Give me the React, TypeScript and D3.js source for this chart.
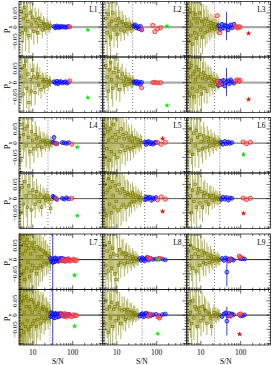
import * as d3 from "d3";

const W = 272;
const H = 365;
const COL_X = [19, 103, 187];
const ROW_Y = [1.5, 117.5, 234];
const PW = 83.5;
const SUB_H = 55.5;
const SN_DOMAIN = [4.5, 560];
const P_DOMAIN = [-0.105, 0.09];

const LABELS = ["L1", "L2", "L3", "L4", "L5", "L6", "L7", "L8", "L9"];
const THRESH = [23, 25, 22, 24, 50, 30, 27, 43, 22];
const ZERO_COLOR = ["#aaaaaa", "#555555", "#222222"];
const ZERO_WIDTH = [2.2, 1, 1];

// olive points: S/N, error, Px, Py
const L1_SN = [5.1, 5.4, 5.8, 6.2, 6.6, 7.0, 7.5, 8.0, 8.6, 9.2, 9.9, 10.6, 11.4, 12.2, 13.1, 14.0, 15.0, 16.1, 17.3, 18.5, 19.8, 21.2, 22.7, 24.3, 26.0, 27.8];
const L1_ERR = [0.095, 0.09, 0.085, 0.08, 0.075, 0.07, 0.066, 0.062, 0.058, 0.054, 0.05, 0.047, 0.044, 0.041, 0.038, 0.035, 0.033, 0.031, 0.029, 0.027, 0.025, 0.023, 0.021, 0.02, 0.018, 0.017];
const L1_PX = [0.055, -0.02, 0.03, 0.07, -0.01, 0.04, 0.02, -0.03, 0.05, 0.01, 0.035, -0.015, 0.025, 0.015, -0.02, 0.03, 0.005, 0.02, -0.01, 0.012, 0.008, -0.005, 0.01, 0.004, -0.003, 0.006];
const L1_PY = [0.02, 0.05, -0.04, 0.06, 0.075, -0.02, 0.03, -0.07, 0.01, -0.03, 0.044, 0.02, -0.035, 0.015, 0.03, -0.01, 0.02, -0.025, 0.01, 0.005, -0.015, 0.012, 0.003, -0.008, 0.006, 0.002];

const L2_SN = [5.3, 5.7, 6.1, 6.5, 7.0, 7.4, 7.9, 8.5, 9.1, 9.7, 10.4, 11.1, 11.9, 12.7, 13.6, 14.5, 15.5, 16.6, 17.8, 19.0, 20.3, 21.7, 23.2, 24.8, 26.5];
const L2_ERR = [0.09, 0.085, 0.08, 0.076, 0.072, 0.068, 0.064, 0.06, 0.056, 0.052, 0.049, 0.046, 0.043, 0.04, 0.037, 0.035, 0.032, 0.03, 0.028, 0.026, 0.024, 0.022, 0.02, 0.019, 0.017];
const L2_PX = [0.03, -0.02, 0.045, 0.01, -0.035, 0.02, 0.05, -0.01, 0.025, 0.005, -0.025, 0.03, 0.015, -0.01, 0.02, 0.008, -0.015, 0.012, 0.004, -0.006, 0.01, 0.002, -0.004, 0.005, 0.001];
const L2_PY = [0.06, 0.02, -0.03, 0.045, 0.07, 0.01, -0.02, 0.035, 0.05, -0.01, 0.02, 0.04, -0.025, 0.015, 0.03, 0.005, -0.01, 0.02, 0.01, -0.005, 0.012, 0.006, -0.002, 0.004, 0.003];

const L3_SN = [4.7, 4.9, 5.1, 5.3, 5.6, 5.8, 6.1, 6.4, 6.7, 7.0, 7.3, 7.7, 8.1, 8.5, 8.9, 9.4, 9.9, 10.4, 11.0, 11.6, 12.2, 12.9, 13.6, 14.3, 15.1, 16.0, 16.9, 17.9, 18.9, 20.0, 21.2, 22.4, 23.7, 25.1, 26.6, 28.2];
const L3_ERR = [0.13, 0.125, 0.12, 0.115, 0.11, 0.106, 0.102, 0.098, 0.094, 0.09, 0.086, 0.082, 0.078, 0.074, 0.07, 0.067, 0.064, 0.061, 0.058, 0.055, 0.052, 0.049, 0.046, 0.044, 0.042, 0.04, 0.038, 0.036, 0.034, 0.032, 0.03, 0.028, 0.026, 0.025, 0.023, 0.022];
const L3_PX = [0.04, -0.05, 0.02, 0.06, -0.03, 0.01, -0.06, 0.05, 0.03, -0.02, 0.045, -0.04, 0.015, 0.03, -0.025, 0.05, -0.01, 0.02, -0.035, 0.025, 0.01, -0.02, 0.03, -0.015, 0.02, 0.005, -0.01, 0.015, -0.005, 0.012, 0.003, -0.008, 0.01, 0.002, -0.004, 0.006];
const L3_PY = [-0.03, 0.05, 0.07, -0.04, 0.02, 0.06, -0.02, 0.03, -0.05, 0.04, 0.01, 0.055, -0.03, 0.02, 0.045, -0.015, 0.03, -0.04, 0.015, 0.035, -0.02, 0.025, 0.01, -0.03, 0.02, 0.015, -0.01, 0.02, 0.005, -0.012, 0.01, 0.004, -0.006, 0.008, 0.002, -0.003];

const L4_SN = [4.6, 5.0, 5.4, 5.8, 6.3, 6.8, 7.3, 7.9, 8.5, 9.2, 9.9, 10.7, 11.5, 12.4, 13.4, 14.4, 15.5, 16.7, 18.0, 19.4, 20.9, 22.5, 24.2, 26.1, 28.1, 30.3];
const L4_ERR = [0.1, 0.095, 0.09, 0.085, 0.08, 0.075, 0.07, 0.066, 0.062, 0.058, 0.054, 0.05, 0.047, 0.044, 0.041, 0.038, 0.035, 0.033, 0.031, 0.029, 0.027, 0.025, 0.023, 0.021, 0.02, 0.018];
const L4_PX = [0.02, -0.06, 0.066, 0.03, 0.05, -0.01, 0.06, 0.02, -0.03, 0.04, 0.01, -0.02, 0.03, 0.015, -0.01, 0.02, 0.005, -0.015, 0.01, 0.006, -0.004, 0.008, 0.002, -0.006, 0.004, 0.001];
const L4_PY = [0.03, -0.05, 0.04, -0.02, 0.06, 0.01, -0.03, 0.045, 0.02, -0.04, 0.03, 0.01, -0.02, 0.025, 0.005, -0.01, 0.015, -0.03, 0.008, 0.004, -0.006, 0.01, 0.003, -0.004, -0.034, -0.002];

const L5_SN = [4.8, 5.0, 5.3, 5.6, 5.9, 6.2, 6.5, 6.9, 7.3, 7.7, 8.1, 8.6, 9.1, 9.6, 10.2, 10.8, 11.4, 12.1, 12.8, 13.6, 14.4, 15.3, 16.2, 17.2, 18.3, 19.4, 20.6, 21.9, 23.3, 24.8, 26.4, 28.1, 30.0, 32.0, 34.2, 36.5, 39.0, 41.7];
const L5_ERR = [0.15, 0.145, 0.14, 0.135, 0.13, 0.125, 0.12, 0.115, 0.11, 0.105, 0.1, 0.095, 0.09, 0.086, 0.082, 0.078, 0.074, 0.07, 0.066, 0.063, 0.06, 0.057, 0.054, 0.051, 0.048, 0.046, 0.044, 0.042, 0.04, 0.038, 0.036, 0.034, 0.032, 0.03, 0.028, 0.026, 0.025, 0.024];
const L5_PX = [0.03, -0.05, 0.06, -0.02, 0.04, 0.01, -0.06, 0.05, -0.03, 0.02, 0.065, -0.04, 0.03, 0.01, -0.05, 0.04, 0.02, -0.03, 0.05, -0.01, 0.03, 0.015, -0.025, 0.035, -0.015, 0.02, 0.01, -0.02, 0.025, 0.005, -0.015, 0.018, -0.008, 0.012, 0.004, -0.006, 0.008, 0.002];
const L5_PY = [-0.04, 0.05, 0.02, -0.06, 0.03, 0.07, -0.02, 0.04, -0.05, 0.06, 0.01, -0.03, 0.045, -0.01, 0.03, -0.04, 0.05, 0.02, -0.03, 0.035, -0.02, 0.025, 0.01, -0.03, 0.02, 0.015, -0.02, 0.01, -0.012, 0.02, 0.006, -0.01, 0.012, -0.004, 0.008, 0.003, -0.005, 0.004];

const L6_SN = [4.7, 5.0, 5.4, 5.8, 6.2, 6.7, 7.2, 7.7, 8.3, 8.9, 9.5, 10.2, 11.0, 11.8, 12.6, 13.5, 14.5, 15.6, 16.7, 17.9, 19.2, 20.6, 22.1, 23.7, 25.4, 27.2, 29.2, 31.3];
const L6_ERR = [0.1, 0.095, 0.09, 0.086, 0.082, 0.078, 0.074, 0.07, 0.066, 0.062, 0.058, 0.055, 0.052, 0.049, 0.046, 0.043, 0.04, 0.038, 0.036, 0.034, 0.032, 0.03, 0.028, 0.026, 0.024, 0.022, 0.02, 0.019];
const L6_PX = [0.02, -0.03, 0.05, 0.01, -0.04, 0.035, -0.01, 0.045, 0.02, -0.025, 0.03, 0.005, -0.02, 0.025, 0.01, -0.015, 0.02, 0.006, -0.01, 0.015, 0.003, -0.008, 0.01, 0.002, -0.005, 0.006, 0.001, -0.003];
const L6_PY = [-0.02, 0.04, 0.01, -0.05, 0.03, -0.01, 0.05, -0.03, 0.02, 0.035, -0.015, 0.025, -0.03, 0.01, 0.02, -0.01, 0.015, -0.02, 0.008, 0.012, -0.006, 0.01, -0.004, 0.006, 0.002, -0.003, 0.004, 0.001];

const L7_SN = [4.5, 4.65, 4.8, 4.95, 5.1, 5.3, 5.5, 5.7, 5.9, 6.1, 6.3, 6.55, 6.8, 7.05, 7.3, 7.6, 7.9, 8.2, 8.5, 8.85, 9.2, 9.6, 10.0, 10.4, 10.8, 11.3, 11.8, 12.3, 12.8, 13.4, 14.0, 14.6, 15.3, 16.0, 16.7, 17.5, 18.3, 19.2, 20.1, 21.0, 22.0, 23.1, 24.2, 25.4, 26.6, 27.9];
const L7_ERR = [0.2, 0.19, 0.18, 0.175, 0.17, 0.165, 0.16, 0.155, 0.15, 0.145, 0.14, 0.135, 0.13, 0.125, 0.12, 0.116, 0.112, 0.108, 0.104, 0.1, 0.096, 0.092, 0.088, 0.085, 0.082, 0.079, 0.076, 0.073, 0.07, 0.067, 0.064, 0.061, 0.058, 0.056, 0.054, 0.052, 0.05, 0.048, 0.046, 0.044, 0.042, 0.04, 0.038, 0.036, 0.034, 0.032];
const L7_PX = [0.04, -0.06, 0.07, -0.02, 0.05, -0.05, 0.02, 0.08, -0.04, 0.06, -0.07, 0.03, 0.05, -0.03, 0.07, -0.01, 0.04, -0.06, 0.06, 0.02, -0.04, 0.05, -0.02, 0.04, 0.06, -0.03, 0.03, -0.05, 0.045, 0.01, -0.03, 0.04, -0.02, 0.035, 0.01, -0.025, 0.03, -0.01, 0.02, 0.025, -0.015, 0.015, -0.01, 0.012, 0.004, -0.006];
const L7_PY = [-0.05, 0.06, 0.02, -0.07, 0.04, 0.07, -0.03, 0.05, -0.06, 0.01, 0.06, -0.04, 0.03, 0.065, -0.02, 0.05, -0.05, 0.03, 0.02, -0.04, 0.055, 0.01, -0.03, 0.045, -0.02, 0.035, 0.02, -0.04, 0.03, -0.015, 0.04, 0.01, -0.03, 0.025, -0.01, 0.02, 0.03, -0.02, 0.015, -0.01, 0.02, 0.008, -0.012, 0.01, 0.004, -0.005];

const L8_SN = [5.0, 5.3, 5.7, 6.1, 6.5, 6.9, 7.4, 7.9, 8.4, 9.0, 9.6, 10.3, 11.0, 11.8, 12.6, 13.5, 14.4, 15.4, 16.5, 17.6, 18.8, 20.1, 21.5, 23.0, 24.6, 26.3, 28.1, 30.0, 32.1, 34.3];
const L8_ERR = [0.11, 0.105, 0.1, 0.096, 0.092, 0.088, 0.084, 0.08, 0.076, 0.072, 0.068, 0.064, 0.06, 0.057, 0.054, 0.051, 0.048, 0.045, 0.042, 0.04, 0.038, 0.036, 0.034, 0.032, 0.03, 0.028, 0.026, 0.024, 0.022, 0.02];
const L8_PX = [0.05, -0.02, 0.03, -0.04, 0.06, 0.01, -0.03, 0.04, 0.02, -0.05, -0.07, 0.015, -0.02, 0.035, -0.01, 0.02, 0.025, -0.015, 0.01, 0.02, -0.01, 0.015, 0.005, -0.008, 0.01, 0.003, -0.005, 0.006, 0.002, -0.003];
const L8_PY = [-0.03, 0.05, 0.02, -0.06, 0.03, -0.01, 0.045, -0.04, 0.02, 0.03, -0.02, 0.04, -0.01, 0.025, -0.03, 0.015, -0.005, 0.02, -0.015, 0.01, 0.02, -0.01, 0.008, 0.012, -0.006, 0.004, 0.008, -0.002, 0.003, 0.001];

const L9_SN = [4.8, 5.1, 5.5, 5.9, 6.3, 6.7, 7.2, 7.7, 8.2, 8.8, 9.4, 10.1, 10.8, 11.6, 12.4, 13.3, 14.2, 15.2, 16.3, 17.4, 18.6, 19.9, 21.3, 22.8, 24.4, 26.1, 27.9, 29.9];
const L9_ERR = [0.1, 0.095, 0.09, 0.086, 0.082, 0.078, 0.074, 0.07, 0.066, 0.062, 0.058, 0.055, 0.052, 0.049, 0.046, 0.043, 0.04, 0.038, 0.036, 0.034, 0.032, 0.03, 0.028, 0.026, 0.024, 0.022, 0.02, 0.019];
const L9_PX = [0.03, -0.02, 0.05, 0.01, -0.03, 0.04, 0.02, -0.04, 0.035, 0.01, -0.02, 0.03, 0.015, -0.01, 0.025, -0.015, 0.02, 0.008, -0.01, 0.015, 0.004, -0.006, 0.01, 0.002, -0.004, 0.005, 0.001, -0.002];
const L9_PY = [-0.02, 0.04, 0.01, -0.03, 0.05, -0.01, 0.03, 0.02, -0.04, 0.025, 0.01, -0.02, 0.03, -0.01, 0.02, 0.015, -0.03, 0.01, 0.005, -0.01, -0.04, -0.004, 0.008, 0.002, -0.005, 0.004, -0.002, 0.001];

// blue points: S/N, error, Px, Py
const L1_B_SN = [34, 37, 40, 43, 46, 50, 55, 60, 66, 72, 78];
const L1_B_ERR = [0.006, 0.006, 0.005, 0.005, 0.005, 0.004, 0.004, 0.004, 0.003, 0.003, 0.003];
const L1_B_PX = [0.002, -0.003, 0.004, 0.001, -0.002, 0.003, 0, 0.002, -0.001, 0.001, 0.002];
const L1_B_PY = [0.003, -0.002, 0.005, -0.004, 0.002, 0.004, -0.001, 0.001, 0.003, -0.002, 0.001];
const L2_B_SN = [27, 29, 31, 33, 36, 39, 42];
const L2_B_ERR = [0.005, 0.005, 0.005, 0.004, 0.004, 0.004, 0.004];
const L2_B_PX = [0.004, 0.008, -0.003, 0.002, -0.006, 0.003, -0.01];
const L2_B_PY = [0.003, -0.002, 0.004, -0.004, 0.002, -0.006, 0.001];
const L3_B_SN = [28, 31, 34, 37, 40, 44, 48, 52, 56, 60, 68];
const L3_B_ERR = [0.008, 0.008, 0.007, 0.007, 0.006, 0.05, 0.006, 0.005, 0.005, 0.005, 0.004];
const L3_B_PX = [0.005, -0.008, 0.01, -0.004, 0.006, 0.004, -0.01, 0.002, 0.008, -0.003, 0.01];
const L3_B_PY = [-0.01, 0.005, -0.006, 0.008, -0.012, 0.002, 0.006, -0.004, 0.01, 0.003, -0.002];
const L4_B_SN = [32, 34, 36, 40, 55, 62, 70, 80];
const L4_B_ERR = [0.005, 0.008, 0.005, 0.005, 0.004, 0.004, 0.004, 0.003];
const L4_B_PX = [0.003, 0.02, 0.001, -0.002, 0.002, 0.001, -0.001, 0.002];
const L4_B_PY = [0.008, 0.004, 0.002, -0.003, 0.001, -0.002, 0.003, -0.001];
const L5_B_SN = [50, 54, 58, 63, 68, 74, 80, 88, 96];
const L5_B_ERR = [0.006, 0.006, 0.005, 0.005, 0.005, 0.004, 0.004, 0.004, 0.004];
const L5_B_PX = [0.004, -0.005, 0.003, 0.006, -0.002, 0.002, -0.004, 0.001, 0.003];
const L5_B_PY = [-0.004, 0.006, -0.002, 0.003, 0.005, -0.006, 0.002, -0.001, 0.004];
const L6_B_SN = [33, 36, 40, 44, 49, 54, 60];
const L6_B_ERR = [0.006, 0.006, 0.005, 0.005, 0.005, 0.004, 0.004];
const L6_B_PX = [0.003, -0.004, 0.006, -0.002, 0.004, -0.001, 0.002];
const L6_B_PY = [-0.003, 0.005, -0.002, 0.004, -0.005, 0.002, 0.001];
const L7_B_SN = [28, 29.5, 31.6, 33, 35, 37, 39, 41.5, 44, 47, 50, 54, 58, 63, 68, 75, 82];
const L7_B_ERR = [0.008, 0.008, 0.12, 0.007, 0.007, 0.007, 0.006, 0.006, 0.006, 0.006, 0.005, 0.005, 0.005, 0.005, 0.004, 0.004, 0.004];
const L7_B_PX = [0.004, -0.006, -0.01, 0.003, -0.008, 0.006, -0.004, 0.002, -0.006, 0.004, -0.002, 0.005, -0.003, 0.002, -0.004, 0.001, -0.002];
const L7_B_PY = [-0.005, 0.008, -0.005, 0.004, -0.01, 0.006, 0.003, -0.007, 0.005, -0.004, 0.006, -0.002, 0.004, -0.003, 0.002, -0.001, 0.003];
const L8_B_SN = [38, 41, 44, 47, 50, 54, 58, 63, 70, 80, 95, 115, 140, 165];
const L8_B_ERR = [0.006, 0.006, 0.005, 0.005, 0.005, 0.005, 0.004, 0.004, 0.004, 0.004, 0.003, 0.003, 0.003, 0.003];
const L8_B_PX = [0.004, -0.003, 0.006, 0.002, -0.005, 0.003, 0.008, -0.002, 0.004, 0.001, 0.002, 0.003, 0.002, -0.001];
const L8_B_PY = [-0.004, 0.003, 0.005, -0.006, 0.002, 0.007, -0.003, 0.004, -0.002, 0.001, 0.003, -0.002, 0.002, 0.004];
const L9_B_SN = [34, 38, 42, 45, 48, 52, 56, 60, 66, 100, 112, 125];
const L9_B_ERR = [0.006, 0.006, 0.006, 0.05, 0.005, 0.005, 0.005, 0.005, 0.004, 0.004, 0.003, 0.003];
const L9_B_PX = [0.004, -0.003, 0.006, -0.044, 0.002, -0.005, 0.003, 0.001, -0.002, 0.003, 0.004, 0.002];
const L9_B_PY = [-0.005, 0.004, 0.008, -0.021, -0.003, 0.006, -0.002, 0.004, 0.001, -0.003, -0.002, 0.001];

// red points: S/N, Px, Py
const L1_R_SN = [84];
const L1_R_PX = [0.001];
const L1_R_PY = [0.006];
const L2_R_SN = [42, 80, 90, 105, 125];
const L2_R_PX = [-0.008, 0.006, -0.016, -0.006, -0.002];
const L2_R_PY = [-0.018, 0, 0.001, -0.001, 0];
const L3_R_SN = [26, 30, 75, 82, 90, 96];
const L3_R_PX = [0.04, -0.02, 0.002, -0.003, 0.001, 0];
const L3_R_PY = [0.004, -0.006, 0.006, 0.01, 0.005, 0.008];
const L4_R_SN = [38, 95];
const L4_R_PX = [-0.002, -0.004];
const L4_R_PY = [0.001, 0.001];
const L5_R_SN = [105, 130, 165];
const L5_R_PX = [0.002, -0.004, 0.003];
const L5_R_PY = [-0.004, 0.006, -0.002];
const L6_R_SN = [115, 140, 175];
const L6_R_PX = [0.004, -0.002, 0.003];
const L6_R_PY = [0.002, -0.003, 0.001];
const L7_R_SN = [52, 58, 64, 70, 78, 86, 95, 105, 115, 125];
const L7_R_PX = [-0.004, 0.002, -0.006, -0.003, 0.003, -0.005, -0.002, 0.001, -0.004, -0.002];
const L7_R_PY = [0.003, -0.004, 0.005, -0.006, 0.002, -0.003, -0.005, 0.001, -0.002, -0.001];
const L8_R_SN = [62, 70, 108, 118];
const L8_R_PX = [0.006, 0.004, 0.002, 0.004];
const L8_R_PY = [-0.004, 0.003, -0.006, -0.01];
const L9_R_SN = [55, 92, 100];
const L9_R_PX = [0, 0.012, 0.008];
const L9_R_PY = [-0.004, 0.002, 0.004];

// single star per panel
const STAR_SN = [240, 182, 158, 131, 141, 118, 112, 107, 94];
const STAR_PX = [-0.01, 0.003, -0.022, -0.014, 0.016, -0.04, -0.055, 0.0, null];
const STAR_PY = [-0.053, -0.08, -0.059, -0.06, -0.045, -0.052, -0.039, -0.065, -0.067];
const STAR_PX_COLOR = ["#00ee00", "#00ee00", "#ff0000", "#00ee00", "#ff0000", "#00ee00", "#00ee00", "#00ee00", "none"];
const STAR_PY_COLOR = ["#00ee00", "#00ee00", "#ff0000", "#00ee00", "#ff0000", "#ff0000", "#00ee00", "#00ee00", "#ff0000"];

const OLIVE = [
  [L1_SN, L1_ERR, L1_PX, L1_PY], [L2_SN, L2_ERR, L2_PX, L2_PY], [L3_SN, L3_ERR, L3_PX, L3_PY],
  [L4_SN, L4_ERR, L4_PX, L4_PY], [L5_SN, L5_ERR, L5_PX, L5_PY], [L6_SN, L6_ERR, L6_PX, L6_PY],
  [L7_SN, L7_ERR, L7_PX, L7_PY], [L8_SN, L8_ERR, L8_PX, L8_PY], [L9_SN, L9_ERR, L9_PX, L9_PY],
];
const BLUE = [
  [L1_B_SN, L1_B_ERR, L1_B_PX, L1_B_PY], [L2_B_SN, L2_B_ERR, L2_B_PX, L2_B_PY], [L3_B_SN, L3_B_ERR, L3_B_PX, L3_B_PY],
  [L4_B_SN, L4_B_ERR, L4_B_PX, L4_B_PY], [L5_B_SN, L5_B_ERR, L5_B_PX, L5_B_PY], [L6_B_SN, L6_B_ERR, L6_B_PX, L6_B_PY],
  [L7_B_SN, L7_B_ERR, L7_B_PX, L7_B_PY], [L8_B_SN, L8_B_ERR, L8_B_PX, L8_B_PY], [L9_B_SN, L9_B_ERR, L9_B_PX, L9_B_PY],
];
const RED = [
  [L1_R_SN, L1_R_PX, L1_R_PY], [L2_R_SN, L2_R_PX, L2_R_PY], [L3_R_SN, L3_R_PX, L3_R_PY],
  [L4_R_SN, L4_R_PX, L4_R_PY], [L5_R_SN, L5_R_PX, L5_R_PY], [L6_R_SN, L6_R_PX, L6_R_PY],
  [L7_R_SN, L7_R_PX, L7_R_PY], [L8_R_SN, L8_R_PX, L8_R_PY], [L9_R_SN, L9_R_PX, L9_R_PY],
];

const FONT = "Liberation Serif, serif";
const starPath = d3.symbol().type(d3.symbolStar).size(10)();

function SubPanel({ i, s }: { i: number; s: number }) {
  const col = i % 3;
  const row = Math.floor(i / 3);
  const x0 = COL_X[col];
  const top = ROW_Y[row] + s * SUB_H;
  const x = d3.scaleLog().domain(SN_DOMAIN).range([x0, x0 + PW]);
  const y = d3.scaleLinear().domain(P_DOMAIN).range([top + SUB_H, top]);
  const [oSn, oErr] = OLIVE[i];
  const oVal = OLIVE[i][2 + s];
  const [bSn, bErr] = BLUE[i];
  const bVal = BLUE[i][2 + s];
  const rSn = RED[i][0];
  const rVal = RED[i][1 + s];
  const starV = s === 0 ? STAR_PX[i] : STAR_PY[i];
  const starC = s === 0 ? STAR_PX_COLOR[i] : STAR_PY_COLOR[i];
  const clip = `clip-${i}-${s}`;
  const xt = x.ticks();
  const yt = y.ticks(20);
  const isMajX = (v: number) => v === 10 || v === 100;
  const isMajY = (v: number) => Math.abs(Math.round(v * 100)) % 5 === 0;
  const bottom = top + SUB_H;
  const right = x0 + PW;

  return (
    <g>
      <defs>
        <clipPath id={clip}>
          <rect x={x0} y={top} width={PW} height={SUB_H} />
        </clipPath>
      </defs>
      <g clipPath={`url(#${clip})`}>
        <line x1={x0} x2={right} y1={y(0)} y2={y(0)} stroke={ZERO_COLOR[row]} strokeWidth={ZERO_WIDTH[row]} />
        <line x1={x(THRESH[i])} x2={x(THRESH[i])} y1={top} y2={bottom} stroke="#555" strokeWidth={0.8} strokeDasharray="1,2" />
        {oSn.map((sn, k) => (
          <line key={"oe" + k} x1={x(sn)} x2={x(sn)} y1={y(oVal[k] - oErr[k])} y2={y(oVal[k] + oErr[k])}
            stroke="#9c9c2a" strokeWidth={0.9} opacity={0.85} />
        ))}
        {oSn.map((sn, k) => (
          <rect key={"om" + k} x={x(sn) - 1.2} y={y(oVal[k]) - 1.2} width={2.4} height={2.4}
            fill="none" stroke="#7a7a00" strokeWidth={0.7} />
        ))}
        {bSn.map((sn, k) => (
          <line key={"be" + k} x1={x(sn)} x2={x(sn)} y1={y(bVal[k] - bErr[k])} y2={y(bVal[k] + bErr[k])}
            stroke="#2222ff" strokeWidth={0.9} />
        ))}
        {bSn.map((sn, k) => (
          <circle key={"bm" + k} cx={x(sn)} cy={y(bVal[k])} r={1.9}
            fill="rgba(80,80,255,0.3)" stroke="#0000ff" strokeWidth={0.8} />
        ))}
        {rSn.map((sn, k) => (
          <circle key={"rm" + k} cx={x(sn)} cy={y(rVal[k])} r={2.1}
            fill="rgba(255,110,110,0.5)" stroke="#ff2020" strokeWidth={0.8} />
        ))}
        {starV !== null && starC !== "none" && (
          <path d={starPath as string} transform={`translate(${x(STAR_SN[i])},${y(starV)})`} fill={starC} />
        )}
      </g>
      {xt.map((v, k) => {
        const len = isMajX(v) ? 4 : 2;
        return (
          <g key={"xt" + k}>
            <line x1={x(v)} x2={x(v)} y1={bottom} y2={bottom - len} stroke="#000" strokeWidth={0.6} />
            <line x1={x(v)} x2={x(v)} y1={top} y2={top + len} stroke="#000" strokeWidth={0.6} />
          </g>
        );
      })}
      {yt.map((v, k) => {
        const len = isMajY(v) ? 4 : 2;
        return (
          <g key={"yt" + k}>
            <line x1={x0} x2={x0 + len} y1={y(v)} y2={y(v)} stroke="#000" strokeWidth={0.6} />
            <line x1={right} x2={right - len} y1={y(v)} y2={y(v)} stroke="#000" strokeWidth={0.6} />
          </g>
        );
      })}
      <rect x={x0} y={top} width={PW} height={SUB_H} fill="none" stroke="#000" strokeWidth={0.7} />
      {col === 0 &&
        [-0.05, 0, 0.05].map((v) => (
          <text key={"yl" + v} x={17.5} y={y(v)} transform={`rotate(-90,17.5,${y(v)})`} textAnchor="middle"
            fontSize={7} fontFamily={FONT}>
            {v === 0 ? "0" : v < 0 ? "\u22120.05" : "0.05"}
          </text>
        ))}
      {col === 0 && (
        <text x={9.5} y={top + SUB_H / 2} transform={`rotate(-90,9.5,${top + SUB_H / 2})`} textAnchor="middle"
          fontSize={8.5} fontFamily={FONT}>
          P<tspan fontSize={6} dy={2}>{s === 0 ? "x" : "y"}</tspan>
        </text>
      )}
      {s === 0 && (
        <text x={right - 5} y={top + 10.5} textAnchor="end" fontSize={7.5} fontFamily={FONT}>
          {LABELS[i]}
        </text>
      )}
      {row === 2 && s === 1 &&
        [10, 100].map((v) => (
          <text key={"xl" + v} x={x(v)} y={bottom + 9.5} textAnchor="middle" fontSize={7.5} fontFamily={FONT}>
            {v}
          </text>
        ))}
      {row === 2 && s === 1 && (
        <text x={x0 + PW / 2 - 3} y={bottom + 18.5} textAnchor="middle" fontSize={7.5} fontFamily={FONT}>
          S/N
        </text>
      )}
    </g>
  );
}

export default function App() {
  const ids = d3.range(9);
  return (
    <div style={{ position: "absolute", left: 0, top: 0 }}>
      <svg width={W} height={H} style={{ display: "block", background: "#fff" }}>
        {ids.map((i) => (
          <g key={i}>
            <SubPanel i={i} s={0} />
            <SubPanel i={i} s={1} />
          </g>
        ))}
      </svg>
    </div>
  );
}
